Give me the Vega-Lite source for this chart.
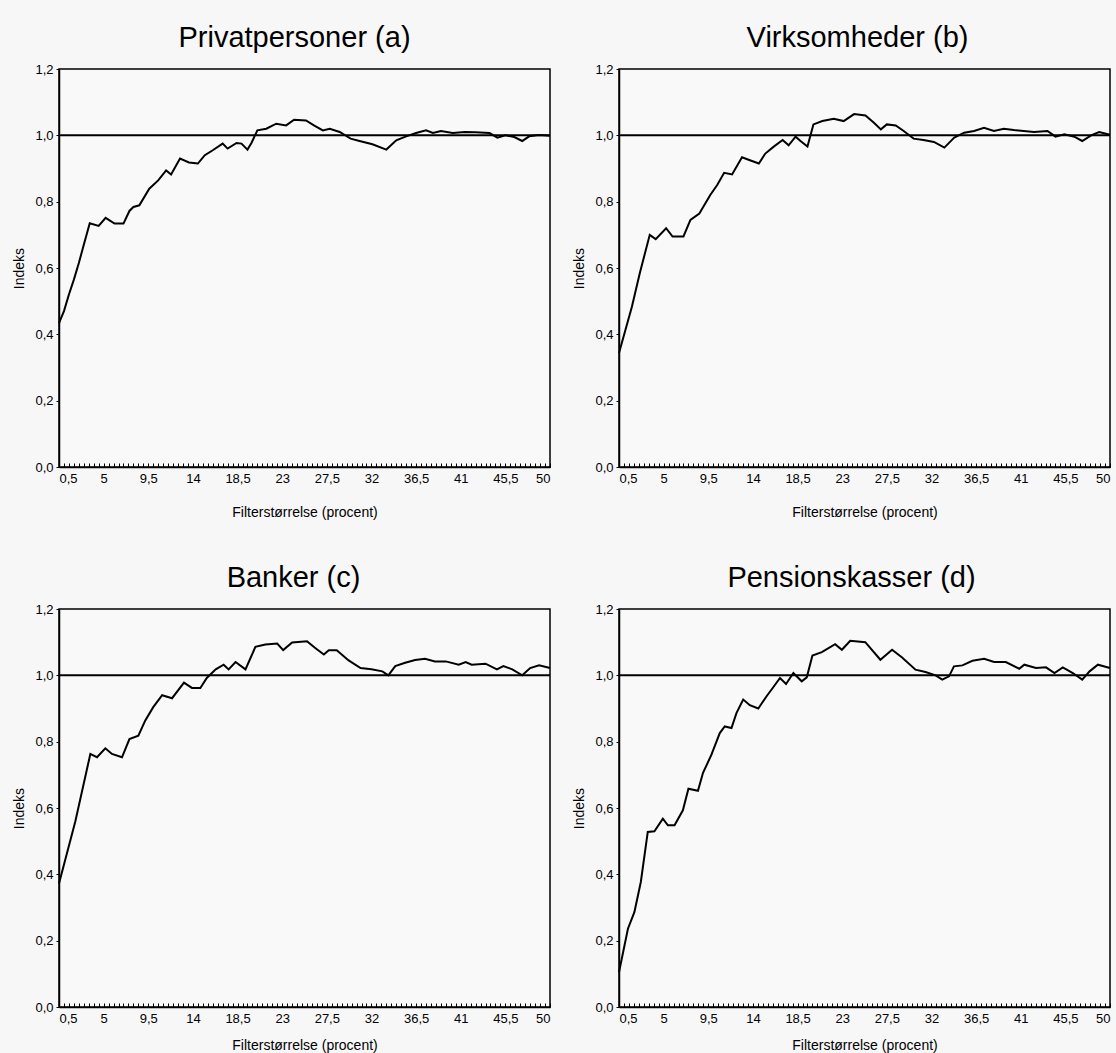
{
  "$schema": "https://vega.github.io/schema/vega-lite/v6.json",
  "background": "#f7f7f7",
  "padding": {"left": 12, "top": 23, "right": 5, "bottom": 0},
  "datasets": {
    "a": [{"x":0.5,"v":0.434},{"x":1.0,"v":0.47},{"x":1.5,"v":0.52},{"x":2.0,"v":0.565},{"x":2.5,"v":0.615},{"x":3.0,"v":0.67},{"x":3.6,"v":0.735},{"x":4.5,"v":0.727},{"x":5.2,"v":0.751},{"x":6.1,"v":0.734},{"x":7.0,"v":0.734},{"x":7.6,"v":0.772},{"x":8.0,"v":0.784},{"x":8.6,"v":0.789},{"x":9.6,"v":0.839},{"x":10.5,"v":0.864},{"x":11.3,"v":0.894},{"x":11.8,"v":0.882},{"x":12.7,"v":0.93},{"x":13.6,"v":0.918},{"x":14.5,"v":0.915},{"x":15.2,"v":0.94},{"x":16.0,"v":0.955},{"x":17.0,"v":0.975},{"x":17.5,"v":0.96},{"x":18.4,"v":0.977},{"x":18.9,"v":0.975},{"x":19.5,"v":0.957},{"x":19.9,"v":0.977},{"x":20.5,"v":1.015},{"x":21.4,"v":1.02},{"x":22.4,"v":1.035},{"x":23.4,"v":1.03},{"x":24.2,"v":1.047},{"x":25.4,"v":1.045},{"x":26.2,"v":1.03},{"x":27.1,"v":1.015},{"x":27.8,"v":1.02},{"x":28.8,"v":1.01},{"x":29.9,"v":0.99},{"x":30.8,"v":0.983},{"x":32.1,"v":0.973},{"x":33.5,"v":0.957},{"x":34.5,"v":0.985},{"x":35.5,"v":0.997},{"x":36.5,"v":1.007},{"x":37.5,"v":1.015},{"x":38.2,"v":1.007},{"x":39.0,"v":1.013},{"x":40.2,"v":1.007},{"x":41.4,"v":1.01},{"x":42.5,"v":1.009},{"x":43.9,"v":1.007},{"x":44.7,"v":0.993},{"x":45.5,"v":1.0},{"x":46.4,"v":0.995},{"x":47.2,"v":0.983},{"x":47.9,"v":0.997},{"x":48.9,"v":1.001},{"x":50.0,"v":0.999}],
    "b": [{"x":0.5,"v":0.344},{"x":1.8,"v":0.483},{"x":2.6,"v":0.585},{"x":3.6,"v":0.70},{"x":4.2,"v":0.687},{"x":5.25,"v":0.72},{"x":5.9,"v":0.695},{"x":7.0,"v":0.695},{"x":7.7,"v":0.745},{"x":8.6,"v":0.764},{"x":9.7,"v":0.82},{"x":10.4,"v":0.85},{"x":11.1,"v":0.887},{"x":11.9,"v":0.882},{"x":12.9,"v":0.934},{"x":13.7,"v":0.925},{"x":14.6,"v":0.915},{"x":15.25,"v":0.945},{"x":16.1,"v":0.966},{"x":17.0,"v":0.986},{"x":17.6,"v":0.97},{"x":18.3,"v":0.996},{"x":18.8,"v":0.983},{"x":19.5,"v":0.966},{"x":20.1,"v":1.033},{"x":21.0,"v":1.043},{"x":22.15,"v":1.05},{"x":23.15,"v":1.043},{"x":24.2,"v":1.064},{"x":25.35,"v":1.06},{"x":26.2,"v":1.038},{"x":26.9,"v":1.018},{"x":27.5,"v":1.033},{"x":28.4,"v":1.03},{"x":29.2,"v":1.013},{"x":30.2,"v":0.99},{"x":31.2,"v":0.986},{"x":32.25,"v":0.98},{"x":33.3,"v":0.963},{"x":34.3,"v":0.993},{"x":35.3,"v":1.008},{"x":36.3,"v":1.013},{"x":37.3,"v":1.023},{"x":38.3,"v":1.013},{"x":39.3,"v":1.02},{"x":40.3,"v":1.016},{"x":41.3,"v":1.013},{"x":42.35,"v":1.01},{"x":43.7,"v":1.013},{"x":44.5,"v":0.996},{"x":45.4,"v":1.003},{"x":46.4,"v":0.996},{"x":47.2,"v":0.983},{"x":48.1,"v":1.0},{"x":48.9,"v":1.01},{"x":50.0,"v":1.002}],
    "c": [{"x":0.5,"v":0.372},{"x":2.15,"v":0.56},{"x":3.66,"v":0.763},{"x":4.33,"v":0.753},{"x":5.17,"v":0.78},{"x":5.84,"v":0.763},{"x":6.85,"v":0.753},{"x":7.6,"v":0.808},{"x":8.5,"v":0.818},{"x":9.2,"v":0.864},{"x":10.0,"v":0.904},{"x":10.9,"v":0.94},{"x":11.9,"v":0.931},{"x":13.1,"v":0.978},{"x":13.9,"v":0.962},{"x":14.75,"v":0.962},{"x":15.4,"v":0.992},{"x":16.3,"v":1.018},{"x":17.1,"v":1.032},{"x":17.6,"v":1.018},{"x":18.3,"v":1.04},{"x":19.3,"v":1.018},{"x":20.3,"v":1.086},{"x":21.3,"v":1.093},{"x":22.5,"v":1.096},{"x":23.1,"v":1.076},{"x":24.0,"v":1.099},{"x":25.5,"v":1.103},{"x":26.3,"v":1.083},{"x":27.2,"v":1.063},{"x":27.7,"v":1.076},{"x":28.5,"v":1.076},{"x":29.7,"v":1.045},{"x":30.9,"v":1.022},{"x":32.0,"v":1.018},{"x":33.1,"v":1.012},{"x":33.7,"v":1.0},{"x":34.4,"v":1.028},{"x":35.4,"v":1.038},{"x":36.4,"v":1.046},{"x":37.4,"v":1.05},{"x":38.4,"v":1.042},{"x":39.5,"v":1.042},{"x":40.8,"v":1.032},{"x":41.5,"v":1.04},{"x":42.1,"v":1.032},{"x":43.5,"v":1.035},{"x":44.65,"v":1.018},{"x":45.3,"v":1.028},{"x":46.2,"v":1.018},{"x":47.2,"v":1.0},{"x":48.0,"v":1.022},{"x":48.9,"v":1.03},{"x":50.0,"v":1.022}],
    "d": [{"x":0.5,"v":0.105},{"x":1.4,"v":0.236},{"x":2.05,"v":0.286},{"x":2.7,"v":0.377},{"x":3.4,"v":0.528},{"x":4.07,"v":0.53},{"x":4.92,"v":0.568},{"x":5.43,"v":0.548},{"x":6.1,"v":0.548},{"x":6.94,"v":0.593},{"x":7.5,"v":0.658},{"x":8.46,"v":0.652},{"x":8.97,"v":0.706},{"x":9.81,"v":0.76},{"x":10.66,"v":0.826},{"x":11.16,"v":0.846},{"x":11.84,"v":0.841},{"x":12.34,"v":0.886},{"x":13.02,"v":0.927},{"x":13.69,"v":0.91},{"x":14.54,"v":0.9},{"x":15.38,"v":0.937},{"x":16.05,"v":0.964},{"x":16.73,"v":0.992},{"x":17.34,"v":0.974},{"x":18.08,"v":1.007},{"x":18.92,"v":0.982},{"x":19.43,"v":0.994},{"x":20.0,"v":1.06},{"x":20.95,"v":1.07},{"x":22.29,"v":1.094},{"x":22.97,"v":1.077},{"x":23.81,"v":1.104},{"x":25.33,"v":1.1},{"x":26.85,"v":1.047},{"x":28.03,"v":1.077},{"x":29.04,"v":1.054},{"x":30.39,"v":1.017},{"x":31.4,"v":1.01},{"x":32.42,"v":1.0},{"x":33.09,"v":0.987},{"x":33.77,"v":0.997},{"x":34.27,"v":1.027},{"x":35.12,"v":1.03},{"x":36.13,"v":1.044},{"x":37.31,"v":1.05},{"x":38.32,"v":1.04},{"x":39.5,"v":1.04},{"x":40.85,"v":1.02},{"x":41.36,"v":1.032},{"x":42.54,"v":1.022},{"x":43.55,"v":1.024},{"x":44.4,"v":1.007},{"x":45.24,"v":1.024},{"x":46.25,"v":1.007},{"x":47.2,"v":0.987},{"x":47.94,"v":1.012},{"x":48.78,"v":1.032},{"x":50.0,"v":1.022}]
  },
  "vconcat": [
    {"hconcat": [
      {"width": 491, "height": 398, "title": {"text": "Privatpersoner (a)", "dx": -10}, "data": {"name": "a"},
       "layer": [
        {"mark": {"type": "line", "color": "black", "strokeWidth": 2},
         "encoding": {
          "x": {"field": "x", "type": "quantitative", "scale": {"domain": [0.5, 50], "nice": false, "zero": false},
                "axis": {"title": "Filterstørrelse (procent)", "titlePadding": 20, "values": [0.5,1,1.5,2,2.5,3,3.5,4,4.5,5,5.5,6,6.5,7,7.5,8,8.5,9,9.5,10,10.5,11,11.5,12,12.5,13,13.5,14,14.5,15,15.5,16,16.5,17,17.5,18,18.5,19,19.5,20,20.5,21,21.5,22,22.5,23,23.5,24,24.5,25,25.5,26,26.5,27,27.5,28,28.5,29,29.5,30,30.5,31,31.5,32,32.5,33,33.5,34,34.5,35,35.5,36,36.5,37,37.5,38,38.5,39,39.5,40,40.5,41,41.5,42,42.5,43,43.5,44,44.5,45,45.5,46,46.5,47,47.5,48,48.5,49,49.5,50]}},
          "y": {"field": "v", "type": "quantitative", "scale": {"domain": [0, 1.2], "nice": false}, "axis": {"title": "Indeks", "values": [0,0.2,0.4,0.6,0.8,1.0,1.2]}}
         }},
        {"data": {"values": [{}]}, "mark": {"type": "rule", "color": "black", "strokeWidth": 2}, "encoding": {"y": {"datum": 1}}}
       ]},
      {"width": 491, "height": 398, "title": {"text": "Virksomheder (b)", "dx": -7}, "data": {"name": "b"},
       "layer": [
        {"mark": {"type": "line", "color": "black", "strokeWidth": 2},
         "encoding": {
          "x": {"field": "x", "type": "quantitative", "scale": {"domain": [0.5, 50], "nice": false, "zero": false},
                "axis": {"title": "Filterstørrelse (procent)", "titlePadding": 20, "values": [0.5,1,1.5,2,2.5,3,3.5,4,4.5,5,5.5,6,6.5,7,7.5,8,8.5,9,9.5,10,10.5,11,11.5,12,12.5,13,13.5,14,14.5,15,15.5,16,16.5,17,17.5,18,18.5,19,19.5,20,20.5,21,21.5,22,22.5,23,23.5,24,24.5,25,25.5,26,26.5,27,27.5,28,28.5,29,29.5,30,30.5,31,31.5,32,32.5,33,33.5,34,34.5,35,35.5,36,36.5,37,37.5,38,38.5,39,39.5,40,40.5,41,41.5,42,42.5,43,43.5,44,44.5,45,45.5,46,46.5,47,47.5,48,48.5,49,49.5,50]}},
          "y": {"field": "v", "type": "quantitative", "scale": {"domain": [0, 1.2], "nice": false}, "axis": {"title": "Indeks", "values": [0,0.2,0.4,0.6,0.8,1.0,1.2]}}
         }},
        {"data": {"values": [{}]}, "mark": {"type": "rule", "color": "black", "strokeWidth": 2}, "encoding": {"y": {"datum": 1}}}
       ]}
    ]},
    {"hconcat": [
      {"width": 491, "height": 398, "title": {"text": "Banker (c)", "dx": -11}, "data": {"name": "c"},
       "layer": [
        {"mark": {"type": "line", "color": "black", "strokeWidth": 2},
         "encoding": {
          "x": {"field": "x", "type": "quantitative", "scale": {"domain": [0.5, 50], "nice": false, "zero": false},
                "axis": {"title": "Filterstørrelse (procent)", "titlePadding": 13, "values": [0.5,1,1.5,2,2.5,3,3.5,4,4.5,5,5.5,6,6.5,7,7.5,8,8.5,9,9.5,10,10.5,11,11.5,12,12.5,13,13.5,14,14.5,15,15.5,16,16.5,17,17.5,18,18.5,19,19.5,20,20.5,21,21.5,22,22.5,23,23.5,24,24.5,25,25.5,26,26.5,27,27.5,28,28.5,29,29.5,30,30.5,31,31.5,32,32.5,33,33.5,34,34.5,35,35.5,36,36.5,37,37.5,38,38.5,39,39.5,40,40.5,41,41.5,42,42.5,43,43.5,44,44.5,45,45.5,46,46.5,47,47.5,48,48.5,49,49.5,50]}},
          "y": {"field": "v", "type": "quantitative", "scale": {"domain": [0, 1.2], "nice": false}, "axis": {"title": "Indeks", "values": [0,0.2,0.4,0.6,0.8,1.0,1.2]}}
         }},
        {"data": {"values": [{}]}, "mark": {"type": "rule", "color": "black", "strokeWidth": 2}, "encoding": {"y": {"datum": 1}}}
       ]},
      {"width": 491, "height": 398, "title": {"text": "Pensionskasser (d)", "dx": -13}, "data": {"name": "d"},
       "layer": [
        {"mark": {"type": "line", "color": "black", "strokeWidth": 2},
         "encoding": {
          "x": {"field": "x", "type": "quantitative", "scale": {"domain": [0.5, 50], "nice": false, "zero": false},
                "axis": {"title": "Filterstørrelse (procent)", "titlePadding": 13, "values": [0.5,1,1.5,2,2.5,3,3.5,4,4.5,5,5.5,6,6.5,7,7.5,8,8.5,9,9.5,10,10.5,11,11.5,12,12.5,13,13.5,14,14.5,15,15.5,16,16.5,17,17.5,18,18.5,19,19.5,20,20.5,21,21.5,22,22.5,23,23.5,24,24.5,25,25.5,26,26.5,27,27.5,28,28.5,29,29.5,30,30.5,31,31.5,32,32.5,33,33.5,34,34.5,35,35.5,36,36.5,37,37.5,38,38.5,39,39.5,40,40.5,41,41.5,42,42.5,43,43.5,44,44.5,45,45.5,46,46.5,47,47.5,48,48.5,49,49.5,50]}},
          "y": {"field": "v", "type": "quantitative", "scale": {"domain": [0, 1.2], "nice": false}, "axis": {"title": "Indeks", "values": [0,0.2,0.4,0.6,0.8,1.0,1.2]}}
         }},
        {"data": {"values": [{}]}, "mark": {"type": "rule", "color": "black", "strokeWidth": 2}, "encoding": {"y": {"datum": 1}}}
       ]}
    ]}
  ],
  "spacing": 43,
  "config": {
    "concat": {"spacing": 17},
    "view": {"stroke": "black", "strokeWidth": 1.5, "fill": "#f9f9f9"},
    "title": {"font": "Liberation Sans", "fontSize": 29, "fontWeight": "normal", "color": "black", "offset": 10, "anchor": "middle"},
    "axis": {"grid": false, "domainColor": "black", "domainWidth": 1.5, "tickColor": "black", "tickWidth": 1,
             "labelFont": "Liberation Sans", "labelFontSize": 13, "labelColor": "black",
             "titleFont": "Liberation Sans", "titleFontWeight": "normal", "titleColor": "black", "titleFontSize": 14},
    "axisX": {"tickSize": -4, "labelPadding": 9, "labelExpr": "round((datum.value - 0.5) * 2) % 9 == 0 ? replace(format(datum.value, '.1~f'), '.', ',') : ''"},
    "axisY": {"tickSize": 3, "labelPadding": 3, "labelExpr": "replace(format(datum.value, '.1f'), '.', ',')", "titlePadding": 8}
  }
}
